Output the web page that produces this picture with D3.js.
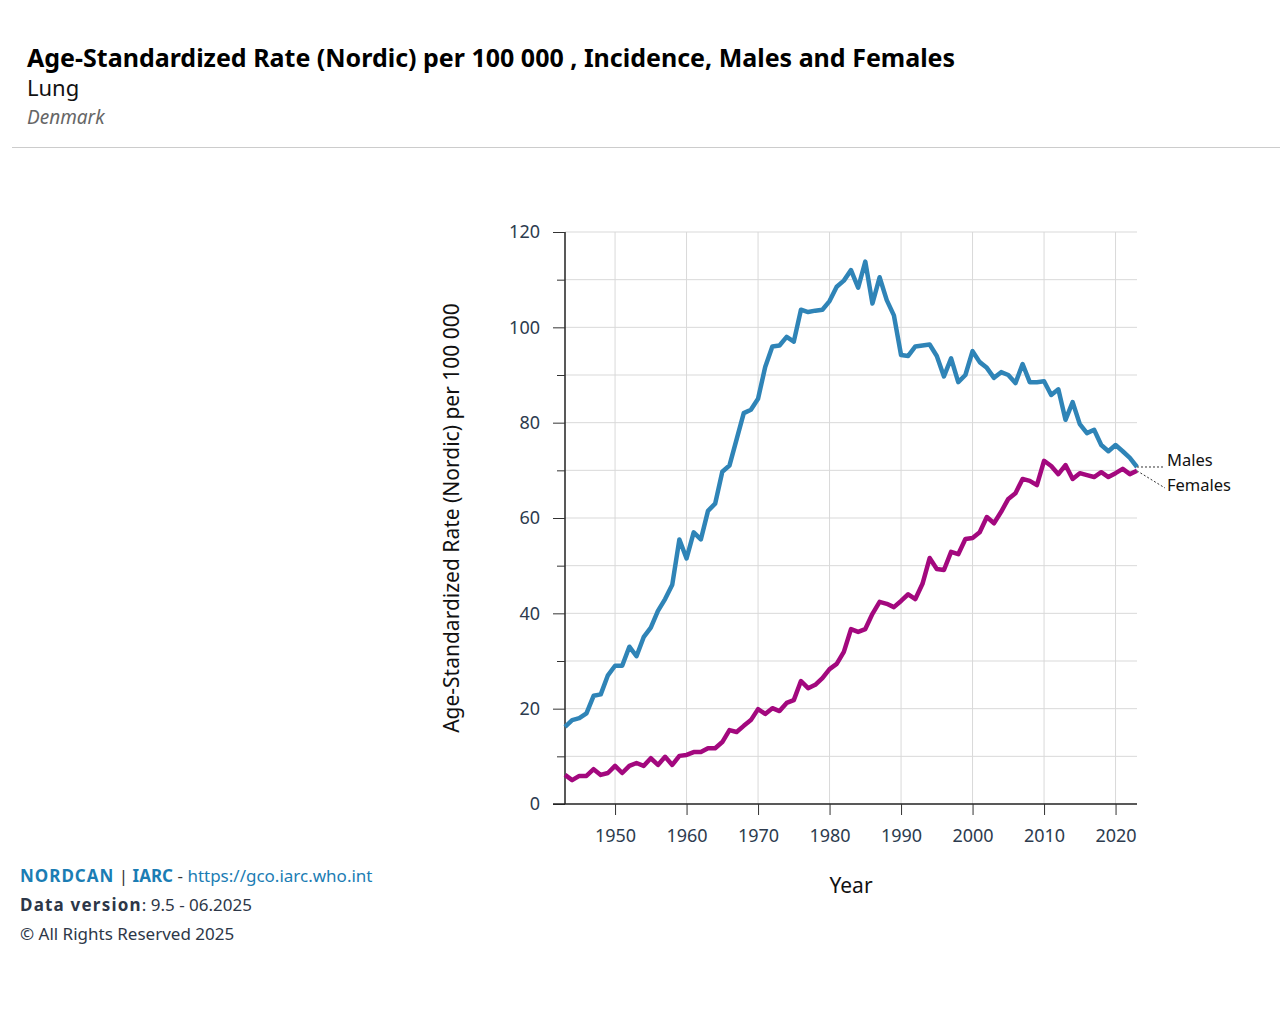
<!DOCTYPE html>
<html>
<head>
<meta charset="utf-8">
<script src="https://cdn.jsdelivr.net/npm/d3@7"></script>
<style>
  body { margin: 0; background: #fff; }
  text { font-family: "Noto Sans", sans-serif; }
</style>
</head>
<body>
<svg id="chart" width="1280" height="1024"></svg>
<script>
// data
const years = d3.range(1943, 2024);
const males = [
  16.2, 17.6, 18, 19, 22.7, 23, 27, 29, 29, 33,
  31, 35, 37, 40.5, 43, 46, 55.5, 51.5, 57, 55.5,
  61.5, 63, 69.7, 71, 76.5, 82, 82.7, 85, 91.7, 96,
  96.2, 98, 97, 103.7, 103.2, 103.5, 103.7, 105.5, 108.5, 109.8,
  112, 108.3, 113.8, 105, 110.5, 105.7, 102.5, 94.2, 94, 96,
  96.2, 96.4, 94, 89.7, 93.5, 88.5, 90, 95, 92.7, 91.5,
  89.4, 90.6, 90, 88.3, 92.3, 88.5, 88.5, 88.7, 85.8, 87,
  80.6, 84.3, 79.7, 77.8, 78.5, 75.3, 74, 75.3, 74, 72.6,
  70.7
];
const females = [
  6.1, 5, 5.9, 5.9, 7.3, 6.1, 6.5, 8, 6.5, 8,
  8.6, 8, 9.6, 8.2, 9.9, 8.2, 10.1, 10.3, 10.9, 10.9,
  11.7, 11.7, 13, 15.5, 15.1, 16.4, 17.6, 19.9, 18.9, 20.1,
  19.5, 21.2, 21.8, 25.8, 24.3, 25, 26.4, 28.3, 29.4, 31.9,
  36.7, 36.1, 36.7, 39.9, 42.4, 42, 41.3, 42.6, 44, 43,
  46.2, 51.6, 49.3, 49.1, 52.9, 52.4, 55.6, 55.8, 57, 60.2,
  58.9, 61.3, 64, 65.2, 68.2, 67.8, 66.9, 72, 70.9, 69.2,
  71.1, 68.2, 69.4, 69, 68.6, 69.6, 68.6, 69.4, 70.3, 69.2,
  69.9
];
const seriesNames = ['Males', 'Females'];
const seriesColors = ['#2f84b7', '#a3087e'];
const xTicks = [1950, 1960, 1970, 1980, 1990, 2000, 2010, 2020];
const yTicks = [0, 20, 40, 60, 80, 100, 120];

const svg = d3.select('#chart');

// header
svg.append('text').attr('x', 27).attr('y', 67)
  .attr('font-size', 25).attr('font-weight', 700).attr('fill', '#000')
  .text('Age-Standardized Rate (Nordic) per 100 000 , Incidence, Males and Females');
svg.append('text').attr('x', 27).attr('y', 96)
  .attr('font-size', 22).attr('fill', '#111').text('Lung');
svg.append('text').attr('x', 27).attr('y', 124)
  .attr('font-size', 19).attr('font-style', 'italic').attr('fill', '#666').text('Denmark');
svg.append('line').attr('x1', 12).attr('x2', 1280).attr('y1', 147.5).attr('y2', 147.5)
  .attr('stroke', '#ccc');

// plot area
const pLeft = 565, pRight = 1137, pTop = 232, pBottom = 804;
const x = d3.scaleLinear().domain([1943, 2023]).range([pLeft, pRight]);
const y = d3.scaleLinear().domain([0, 120]).range([pBottom, pTop]);

// grid
svg.append('g').selectAll('line').data(d3.range(10, 121, 10)).join('line')
  .attr('x1', pLeft).attr('x2', pRight)
  .attr('y1', d => y(d)).attr('y2', d => y(d))
  .attr('stroke', '#d9d9d9');
svg.append('g').selectAll('line').data(xTicks).join('line')
  .attr('x1', d => x(d)).attr('x2', d => x(d))
  .attr('y1', pTop).attr('y2', pBottom)
  .attr('stroke', '#d9d9d9');

// axes
const yAxis = svg.append('g').attr('transform', `translate(${pLeft},0)`)
  .call(d3.axisLeft(y).tickValues(d3.range(0, 121, 10)).tickSize(12).tickPadding(13)
    .tickFormat(d => yTicks.includes(d) ? d : ''));
yAxis.selectAll('.tick line').attr('x2', d => yTicks.includes(d) ? -12 : -8);
const xAxis = svg.append('g').attr('transform', `translate(0,${pBottom})`)
  .call(d3.axisBottom(x).tickValues(xTicks).tickSize(11).tickPadding(14).tickFormat(d3.format('d')));
[yAxis, xAxis].forEach(g => {
  g.select('.domain').attr('stroke', '#222').attr('stroke-width', 1.5);
  g.selectAll('.tick line').attr('stroke', '#333');
  g.selectAll('.tick text').attr('font-size', 18).attr('fill', '#2d3b4e')
    .attr('font-family', '"Noto Sans", sans-serif');
});
yAxis.select('.domain').attr('d', `M0,${pTop}V${pBottom}`);
xAxis.select('.domain').attr('d', `M${pLeft - 12},0H${pRight}`);

svg.append('text')
  .attr('transform', `translate(459,${(pTop + pBottom) / 2}) rotate(-90)`)
  .attr('text-anchor', 'middle').attr('font-size', 21).attr('fill', '#111')
  .text('Age-Standardized Rate (Nordic) per 100 000');
svg.append('text').attr('x', (pLeft + pRight) / 2).attr('y', 893)
  .attr('text-anchor', 'middle').attr('font-size', 21).attr('fill', '#111').text('Year');

// lines
const line = d3.line().x((d, i) => x(years[i])).y(d => y(d));
[males, females].forEach((s, k) => {
  svg.append('path').datum(s)
    .attr('fill', 'none').attr('stroke', seriesColors[k])
    .attr('stroke-width', 4.5).attr('stroke-linejoin', 'round')
    .attr('d', line);
});

// end labels
const labelY = [466, 491];
[males, females].forEach((s, k) => {
  const last = s[s.length - 1];
  svg.append('line')
    .attr('x1', x(2023)).attr('y1', y(last))
    .attr('x2', 1165).attr('y2', k === 0 ? y(last) : labelY[k] - 3)
    .attr('stroke', '#333').attr('stroke-dasharray', '2,2');
  svg.append('text').attr('x', 1167).attr('y', labelY[k])
    .attr('font-size', 16.5).attr('fill', '#111').text(seriesNames[k]);
});

// footer
const f1 = svg.append('text').attr('x', 20).attr('y', 882).attr('font-size', 17);
f1.append('tspan').attr('font-weight', 700).attr('fill', '#1b7db4').attr('letter-spacing', 1).text('NORDCAN');
f1.append('tspan').attr('fill', '#333').text(' | ');
f1.append('tspan').attr('font-weight', 700).attr('fill', '#1b7db4').text('IARC');
f1.append('tspan').attr('fill', '#333').text(' - ');
f1.append('tspan').attr('fill', '#1b7db4').text('https://gco.iarc.who.int');
const f2 = svg.append('text').attr('x', 20).attr('y', 911).attr('font-size', 17).attr('fill', '#2d3748');
f2.append('tspan').attr('font-weight', 700).attr('letter-spacing', 1.2).text('Data version');
f2.append('tspan').text(': 9.5 - 06.2025');
svg.append('text').attr('x', 20).attr('y', 940).attr('font-size', 17).attr('fill', '#2d3748')
  .text('© All Rights Reserved 2025');
</script>
</body>
</html>
